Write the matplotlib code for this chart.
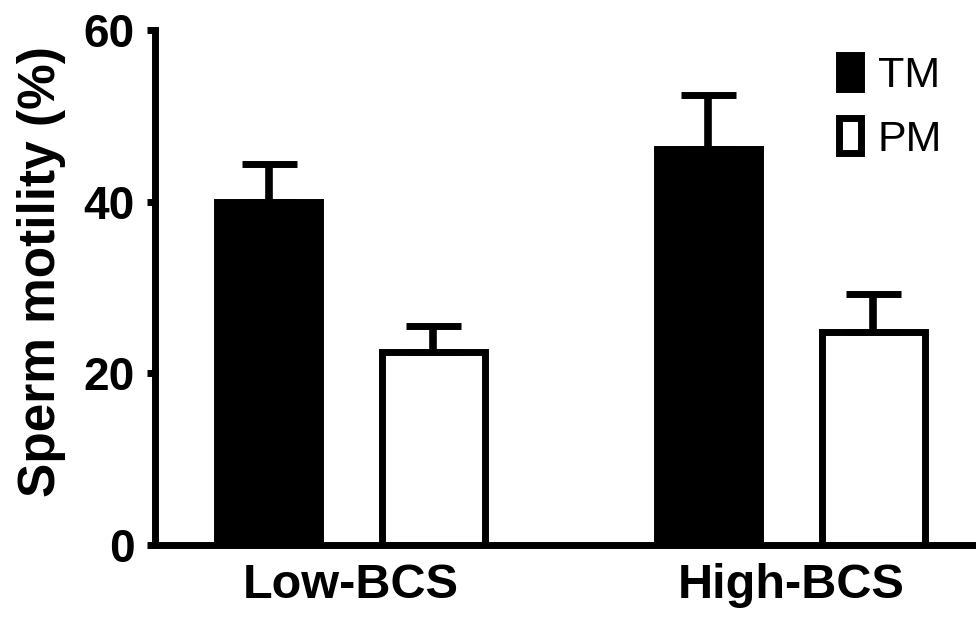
import matplotlib
matplotlib.use("Agg")
import matplotlib.pyplot as plt
import numpy as np

# values
groups = ["Low-BCS", "High-BCS"]
tm_mean = [40.0, 46.1]
tm_sem = [4.4, 6.3]
pm_mean = [22.5, 24.8]
pm_sem = [3.0, 4.5]

plt.rcParams["font.family"] = ["Liberation Sans", "DejaVu Sans"]

fig = plt.figure(figsize=(9.76, 6.19), dpi=100)
ax = fig.add_axes([0.1583, 0.1195, 0.8417, 0.832])

x = np.arange(len(groups))
off = 0.1875
w = 0.236
lw = 5

tm_bars = ax.bar(x - off, tm_mean, w, color="black", edgecolor="black", linewidth=lw, label="TM", zorder=2)
pm_bars = ax.bar(x + off, pm_mean, w, color="white", edgecolor="black", linewidth=lw, label="PM", zorder=2)

ax.errorbar(x - off, tm_mean, yerr=[np.zeros(2), tm_sem], fmt="none", ecolor="black",
            elinewidth=5.5, capsize=19.8, capthick=5, zorder=3)
ax.errorbar(x + off, pm_mean, yerr=[np.zeros(2), pm_sem], fmt="none", ecolor="black",
            elinewidth=5.5, capsize=19.8, capthick=5, zorder=3)

ax.set_xlim(-0.4466, 1.4205)
ax.set_ylim(0, 60)
ax.set_yticks([0, 20, 40, 60])
ax.set_xticks(x)
ax.set_xticklabels(groups, fontsize=35, fontweight="bold")
for lab in ax.get_yticklabels():
    lab.set_fontsize(33)
    lab.set_fontweight("bold")

for side in ["top", "right"]:
    ax.spines[side].set_visible(False)
for side in ["left", "bottom"]:
    ax.spines[side].set_linewidth(5)
    ax.spines[side].set_capstyle("projecting")

ax.tick_params(axis="y", length=5.5, width=5, pad=9)
ax.tick_params(axis="x", length=0, pad=13)

ax.set_ylabel("Sperm motility (%)", fontsize=37, fontweight="bold")
ax.yaxis.set_label_coords(-0.108, 0.531)

ax.legend(handles=[tm_bars, pm_bars], loc="upper left", bbox_to_anchor=(0.833, 0.952),
          frameon=False, fontsize=31, handlelength=0.52, handleheight=0.86,
          handletextpad=0.38, labelspacing=0.52, borderpad=0, borderaxespad=0)

fig.savefig("out.png", dpi=100)
